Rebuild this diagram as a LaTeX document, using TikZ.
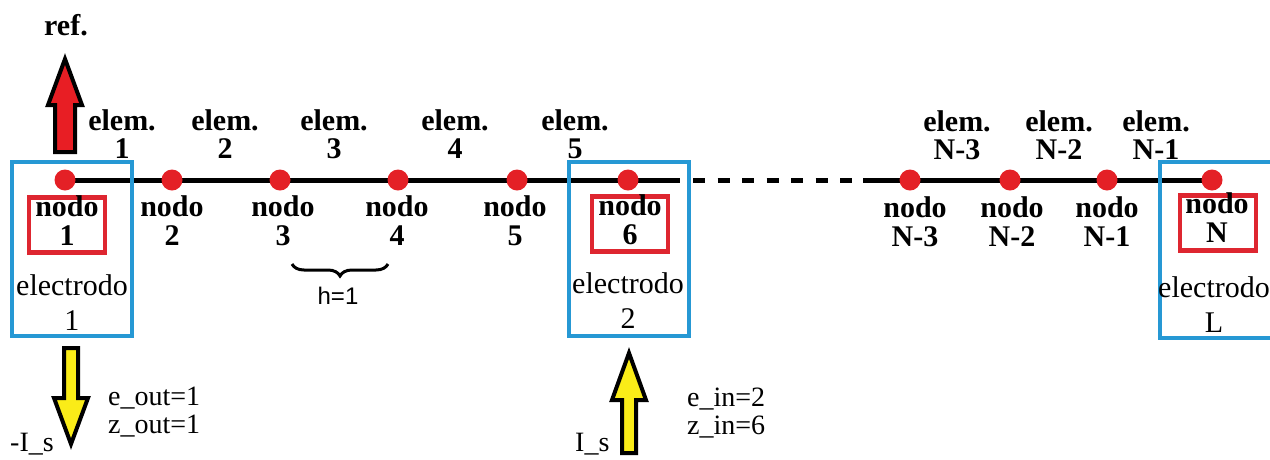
\documentclass[tikz,border=0pt]{standalone}
\usepackage{fontspec}
\setmainfont{Liberation Serif}
\newfontfamily\hsans{Liberation Sans}
\usetikzlibrary{backgrounds,decorations.pathreplacing}
\definecolor{dotred}{RGB}{228,32,38}
\definecolor{boxred}{RGB}{222,38,48}
\definecolor{eblue}{RGB}{38,152,212}
\definecolor{ayellow}{RGB}{250,236,24}
\definecolor{ared}{RGB}{232,30,36}
\begin{document}
\begin{tikzpicture}[x=1pt,y=-1pt,
 dot/.style={circle,fill=dotred,minimum size=21pt,inner sep=0pt},
 ebox/.style={draw=eblue,line width=4pt,minimum width=120pt,minimum height=174pt,inner sep=0pt},
 rbox/.style={draw=boxred,line width=4.5pt,minimum width=76pt,minimum height=55pt,inner sep=0pt},
 lbl/.style={font=\fontsize{30}{29}\selectfont\bfseries,align=center,anchor=base,inner sep=0pt},
 elemlbl/.style={font=\fontsize{30}{28}\selectfont\bfseries,align=center,anchor=base,inner sep=0pt},
 elbl/.style={font=\fontsize{30}{35}\selectfont,align=center,anchor=base,inner sep=0pt},
 txt/.style={font=\fontsize{28}{28}\selectfont,anchor=base west,inner sep=0pt,align=left},
 wire/.style={line width=5pt},
 arr/.style={draw=black,line width=4pt,line join=miter}]
\useasboundingbox (0,0) rectangle (1270,459);
\clip (0,0) rectangle (1270,459);

% electrode boxes
\node[ebox] (E1) at (72,249) {};
\node[ebox] (E2) at (628.5,249) {};
\node[ebox,minimum height=176pt] (EL) at (1220,250) {};

% node boxes
\node[rbox] (R1) at (67,225) {};
\node[rbox] (R6) at (630,224) {};
\node[rbox] (RN) at (1218,223) {};

% dots
\node[dot] (n1) at (65,180) {};
\node[dot] (n2) at (172,180) {};
\node[dot] (n3) at (280,180) {};
\node[dot] (n4) at (398,180) {};
\node[dot] (n5) at (517,180) {};
\node[dot] (n6) at (628,180) {};
\node[dot] (nN3) at (910,180) {};
\node[dot] (nN2) at (1010,180) {};
\node[dot] (nN1) at (1107,180) {};
\node[dot] (nN) at (1212,180) {};
\coordinate (d1) at (680,180);
\coordinate (d2) at (693,180);
\coordinate (d3) at (853,180);
\coordinate (d4) at (863,180);

\begin{pgfonlayer}{background}
\draw[wire] (n1.center) -- (n2.center) -- (n3.center) -- (n4.center) -- (n5.center) -- (n6.center) -- (d1);
\draw[wire,dash pattern=on 12pt off 12.5pt] (d2) -- (d3);
\draw[wire] (d4) -- (nN3.center) -- (nN2.center) -- (nN1.center) -- (nN.center);
\end{pgfonlayer}

% node labels (anchor = baseline of last line)
\node[lbl] (t1) at (67,245) {nodo\\1};
\node[lbl] (t2) at (172,245) {nodo\\2};
\node[lbl] (t3) at (283,245) {nodo\\3};
\node[lbl] (t4) at (397,245) {nodo\\4};
\node[lbl] (t5) at (515,245) {nodo\\5};
\node[lbl] (t6) at (630,244) {nodo\\6};
\node[lbl] (tN3) at (915,246) {nodo\\N-3};
\node[lbl] (tN2) at (1012,246) {nodo\\N-2};
\node[lbl] (tN1) at (1107,246) {nodo\\N-1};
\node[lbl] (tN) at (1217,242) {nodo\\N};

% element labels
\node[elemlbl] (e1) at (122,158) {elem.\\1};
\node[elemlbl] (e2) at (225,158) {elem.\\2};
\node[elemlbl] (e3) at (334,158) {elem.\\3};
\node[elemlbl] (e4) at (455,158) {elem.\\4};
\node[elemlbl] (e5) at (575,158) {elem.\\5};
\node[elemlbl] (eN3) at (957,159) {elem.\\N-3};
\node[elemlbl] (eN2) at (1059,159) {elem.\\N-2};
\node[elemlbl] (eN1) at (1156,159) {elem.\\N-1};

% electrode labels
\node[elbl] (l1) at (72,330) {electrodo\\1};
\node[elbl] (l2) at (628,328) {electrodo\\2};
\node[elbl] (lL) at (1214,332) {electrodo\\L};

% ref
\node[font=\fontsize{30}{30}\selectfont\bfseries,anchor=base,inner sep=0pt] (ref) at (66,35) {ref.};
\draw[arr,fill=ared] (55,152) -- (55,105) -- (48,105) -- (65,59) -- (82,105) -- (75,105) -- (75,152) -- cycle;

% current arrows
\draw[arr,fill=ayellow] (64,348) -- (78,348) -- (78,398) -- (88,398) -- (71,444) -- (54,398) -- (64,398) -- cycle;
\draw[arr,fill=ayellow] (622,453) -- (636,453) -- (636,400) -- (646,400) -- (629,353) -- (612,400) -- (622,400) -- cycle;

\node[txt] (out) at (108,433) {e\_out=1\\z\_out=1};
\node[txt] (in) at (687,434) {e\_in=2\\z\_in=6};
\node[txt] (Is1) at (10,451) {-I\_s};
\node[txt] (Is2) at (575,451) {I\_s};

% h=1 brace
\draw[line width=3pt,decorate,decoration={brace,amplitude=12pt,mirror}] (292,264) -- (388,264);
\node[font=\hsans\fontsize{24}{24}\selectfont,anchor=base,inner sep=0pt] (h) at (338,304) {h=1};
\end{tikzpicture}
\end{document}
